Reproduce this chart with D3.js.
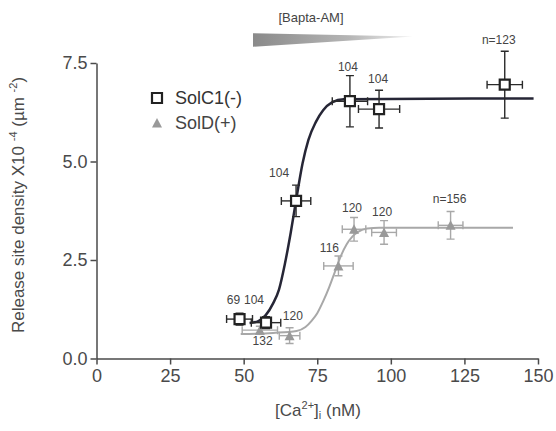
<!DOCTYPE html>
<html lang="en">
	<head>
		<meta charset="UTF-8">
		<title>Release site density vs Ca</title>
		<script src="https://d3js.org/d3.v7.min.js"></script>
		<style>
			body {
				margin: 0;
				background: white;
			}

			svg {
				font-family: "Liberation Sans", Arial, sans-serif;
			}

			.axis path, .axis line {
				stroke: #4a4a4a;
				stroke-width: 1.5;
			}

			.axis text {
				fill: #4a4a4a;
				font-size: 18px;
			}

			.nlabel {
				font-size: 12px;
				fill: #444;
				text-anchor: middle;
				dominant-baseline: middle;
			}
		</style>
	</head>
	<body>
		<div id="chart"></div>
		<script>
			// SolC1(-) points: [Ca2+]i (nM), density, x error, y error, n
			const solcX = [48.6, 57.6, 67.8, 86.1, 96.0, 138.7]
			const solcY = [1.0, 0.91, 4.0, 6.53, 6.33, 6.95]
			const solcXErr = [4.4, 5, 5, 6, 7, 6]
			const solcYErr = [0.15, 0.15, 0.4, 0.65, 0.48, 0.85]
			const solcN = ["69", "104", "104", "104", "104", "n=123"]

			// SolD(+) points
			const soldX = [55.5, 65.6, 82.2, 87.5, 97.7, 120.3]
			const soldY = [0.72, 0.58, 2.35, 3.28, 3.2, 3.38]
			const soldXErr = [6, 3.5, 5, 4, 4.2, 4.2]
			const soldYErr = [0.1, 0.2, 0.25, 0.3, 0.3, 0.35]
			const soldN = ["120", "132", "116", "120", "120", "n=156"]

			// fitted curves
			const solcFitX = [52, 55, 57.5, 60, 62, 64, 66, 68, 70, 72, 74.5, 77, 80, 84, 148.5]
			const solcFitY = [0.9, 0.95, 1.1, 1.4, 1.75, 2.4, 3.2, 4.1, 4.95, 5.55, 6.0, 6.3, 6.5, 6.58, 6.6]
			const soldFitX = [49, 60, 68, 71, 73, 75, 77, 79, 81, 83, 85, 87, 89, 92, 96, 141.5]
			const soldFitY = [0.62, 0.65, 0.7, 0.8, 0.95, 1.15, 1.45, 1.8, 2.2, 2.6, 2.9, 3.1, 3.22, 3.3, 3.32, 3.32]

			const xTicks = [0, 25, 50, 75, 100, 125, 150]
			const yTicks = [0, 2.5, 5, 7.5]

			// label offsets (px) relative to each point
			const solcLabelOff = [[-6, -18], [-12, -22], [-17, -27], [-2, -33], [-1, -29], [-6, -44]]
			const soldLabelOff = [[33, -13], [-27, 6], [-9, -17], [-2, -20], [-2, -20], [-1, -25]]

			const width = 556, height = 431
			const svg = d3.select("#chart").append("svg")
				.attr("width", width).attr("height", height)

			const x = d3.scaleLinear().domain([0, 150]).range([96.5, 538])
			const y = d3.scaleLinear().domain([0, 7.5]).range([358.5, 63])

			// axes
			svg.append("g").classed("axis", true)
				.attr("transform", `translate(0,${y(0)})`)
				.call(d3.axisBottom(x).tickValues(xTicks).tickSize(6).tickSizeOuter(0).tickPadding(5))
			svg.append("g").classed("axis", true)
				.attr("transform", `translate(${x(0)},0)`)
				.call(d3.axisLeft(y).tickValues(yTicks).tickFormat(d3.format(".1f")).tickSize(6).tickSizeOuter(0).tickPadding(3))

			// axis titles
			const yl = svg.append("text")
				.attr("transform", "translate(24,205) rotate(-90)")
				.attr("text-anchor", "middle")
				.attr("fill", "#4a4a4a")
				.attr("font-size", 17)
			yl.append("tspan").text("Release site density X10 ")
			yl.append("tspan").attr("font-size", 11).attr("dy", -7).text("-4")
			yl.append("tspan").attr("dy", 7).text(" (\u00b5m ")
			yl.append("tspan").attr("font-size", 11).attr("dy", -7).text("-2")
			yl.append("tspan").attr("dy", 7).text(")")

			const xl = svg.append("text")
				.attr("x", 318).attr("y", 416)
				.attr("text-anchor", "middle")
				.attr("fill", "#4a4a4a")
				.attr("font-size", 17)
			xl.append("tspan").text("[Ca")
			xl.append("tspan").attr("font-size", 11).attr("dy", -7).text("2+")
			xl.append("tspan").attr("dy", 7).text("]")
			xl.append("tspan").attr("font-size", 11).attr("dy", 3).text("i")
			xl.append("tspan").attr("dy", -3).text(" (nM)")

			// Bapta-AM wedge
			const grad = svg.append("defs").append("linearGradient")
				.attr("id", "wedge").attr("x1", "0%").attr("x2", "100%")
			grad.append("stop").attr("offset", "0%").attr("stop-color", "#8a8a8a")
			grad.append("stop").attr("offset", "60%").attr("stop-color", "#b5b5b5")
			grad.append("stop").attr("offset", "100%").attr("stop-color", "#f0f0f0")
			svg.append("path")
				.attr("d", "M253,33.3 L413,36.5 L253,46.7 Z")
				.attr("fill", "url(#wedge)")
			svg.append("text")
				.attr("x", 311).attr("y", 22)
				.attr("text-anchor", "middle")
				.attr("fill", "#444")
				.attr("font-size", 13)
				.text("[Bapta-AM]")

			const line = d3.line().x(d => x(d[0])).y(d => y(d[1])).curve(d3.curveMonotoneX)

			function drawSeries(xs, ys, xe, ye, ns, offs, fitX, fitY, color, lineColor, curveWidth, marker) {
				const g = svg.append("g")
				const pts = xs.map((v, i) => ({x: v, y: ys[i], xe: xe[i], ye: ye[i], n: ns[i], off: offs[i]}))

				g.append("path")
					.datum(fitX.map((v, i) => [v, fitY[i]]))
					.attr("fill", "none")
					.attr("stroke", lineColor)
					.attr("stroke-width", curveWidth)
					.attr("d", line)

				const cap = 4
				const eb = g.selectAll(".err").data(pts).join("g")
					.attr("stroke", color).attr("stroke-width", 1.4).attr("fill", "none")
				eb.append("line")
					.attr("x1", d => x(d.x - d.xe)).attr("x2", d => x(d.x + d.xe))
					.attr("y1", d => y(d.y)).attr("y2", d => y(d.y))
				eb.append("line")
					.attr("x1", d => x(d.x)).attr("x2", d => x(d.x))
					.attr("y1", d => y(d.y - d.ye)).attr("y2", d => y(d.y + d.ye))
				eb.append("path")
					.attr("d", d => `M${x(d.x - d.xe)},${y(d.y) - cap}V${y(d.y) + cap}M${x(d.x + d.xe)},${y(d.y) - cap}V${y(d.y) + cap}` +
						`M${x(d.x) - cap},${y(d.y - d.ye)}H${x(d.x) + cap}M${x(d.x) - cap},${y(d.y + d.ye)}H${x(d.x) + cap}`)

				g.selectAll(".mk").data(pts).join("path")
					.attr("transform", d => `translate(${x(d.x)},${y(d.y)})`)
					.call(marker)

				g.selectAll(".nlabel").data(pts).join("text")
					.classed("nlabel", true)
					.attr("x", d => x(d.x) + d.off[0])
					.attr("y", d => y(d.y) + d.off[1])
					.text(d => d.n)
			}

			function squareMarker(sel) {
				sel.attr("d", "M-5,-5H5V5H-5Z")
					.attr("fill", "white").attr("stroke", "#222").attr("stroke-width", 2.2)
			}

			function triangleMarker(sel) {
				sel.attr("d", "M0,-5L5,4.5H-5Z")
					.attr("fill", "#999").attr("stroke", "none")
			}

			drawSeries(soldX, soldY, soldXErr, soldYErr, soldN, soldLabelOff, soldFitX, soldFitY, "#a8a8a8", "#a8a8a8", 2, triangleMarker)
			drawSeries(solcX, solcY, solcXErr, solcYErr, solcN, solcLabelOff, solcFitX, solcFitY, "#2a2a2a", "#262636", 2.5, squareMarker)

			// legend
			const leg = svg.append("g")
			leg.append("path").attr("transform", "translate(157,98)").call(squareMarker)
			leg.append("path").attr("transform", "translate(157,123)").call(triangleMarker)
			leg.append("text").attr("x", 175).attr("y", 104).attr("font-size", 18).attr("fill", "#333").text("SolC1(-)")
			leg.append("text").attr("x", 175).attr("y", 129).attr("font-size", 18).attr("fill", "#444").text("SolD(+)")
		</script>
	</body>
</html>
